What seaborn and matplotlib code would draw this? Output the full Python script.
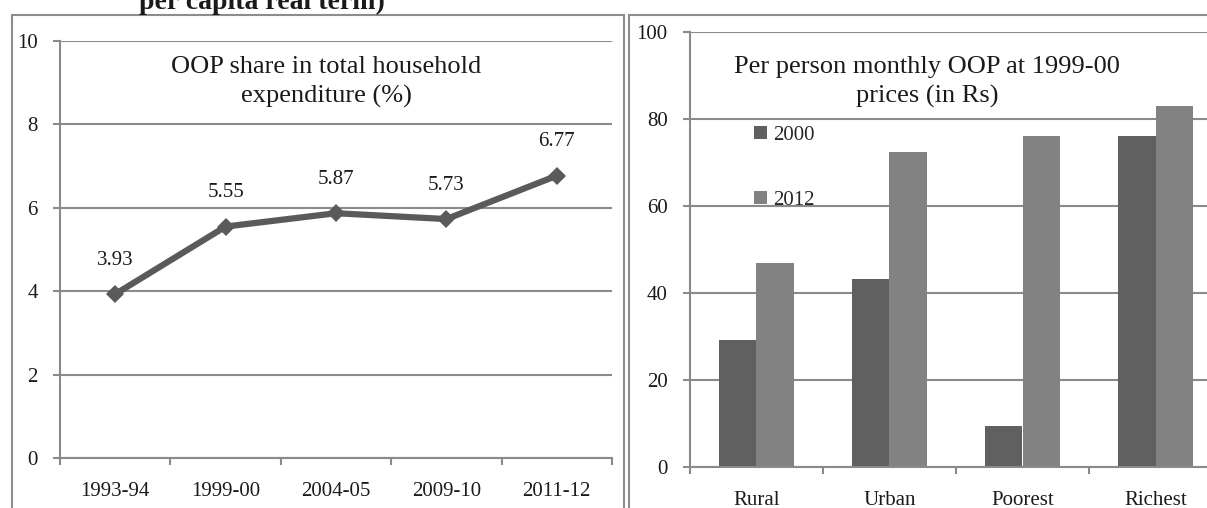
import matplotlib
matplotlib.use('Agg')
import matplotlib.pyplot as plt
from matplotlib.patches import Rectangle
import seaborn as sns
import pandas as pd

# left panel: OOP share
years = ['1993-94', '1999-00', '2004-05', '2009-10', '2011-12']
oop_share = [3.93, 5.55, 5.87, 5.73, 6.77]

# right panel: per person monthly OOP
groups = ['Rural', 'Urban', 'Poorest', 'Richest']
oop_2000 = [29.3, 43.2, 9.5, 76.0]
oop_2012 = [46.9, 72.3, 76.0, 83.0]
bar_years = ['2000', '2012']

sns.set_style('white')
plt.rcParams['font.family'] = ['Liberation Serif', 'DejaVu Serif']

GRID = '#8a8a8a'
TXT = '#1a1a1a'
W, H = 1207, 508

fig = plt.figure(figsize=(12.07, 5.08), dpi=100)

# panel frames
fig.patches.append(Rectangle((12 / W, -0.1), 612 / W, 1.1 - 15 / H,
                             transform=fig.transFigure, fill=False,
                             edgecolor='#8c8c8c', linewidth=1.5))
fig.patches.append(Rectangle((629 / W, -0.1), 0.6, 1.1 - 15 / H,
                             transform=fig.transFigure, fill=False,
                             edgecolor='#8c8c8c', linewidth=1.5))

# caption of the page, cut by the crop
fig.text(262 / W, 1 - 9 / H, 'per capita real term)', ha='center', va='baseline',
         fontsize=20, fontweight='bold', color=TXT)


def style_axes(ax):
    for s in ['top', 'right']:
        ax.spines[s].set_visible(False)
    for s in ['left', 'bottom']:
        ax.spines[s].set_color(GRID)
        ax.spines[s].set_linewidth(1.5)
    ax.grid(axis='y', color=GRID, linewidth=1.5)
    ax.set_axisbelow(True)
    ax.set_xlabel('')
    ax.set_ylabel('')
    ax.tick_params(axis='y', which='major', length=5, width=1.5, color=GRID,
                   labelsize=15, labelcolor=TXT, pad=11, left=True)
    ax.tick_params(axis='x', which='major', length=5, width=1.5, color=GRID,
                   direction='out', bottom=True)
    ax.tick_params(axis='x', which='minor', length=0, labelsize=15,
                   labelcolor=TXT, pad=17)


def panel_title(x, lines):
    for txt, base in zip(lines, [73, 103]):
        fig.text(x / W, 1 - base / H, txt, ha='center', va='baseline',
                 fontsize=19, color=TXT)


# left chart
ax1 = fig.add_axes([60 / W, 50 / H, 552 / W, 417 / H])
df1 = pd.DataFrame({'year': years, 'share': oop_share})
sns.lineplot(data=df1, x='year', y='share', ax=ax1, color='#5a5a5a',
             linewidth=4.5, marker='D', markersize=9.5, markeredgewidth=0)
ax1.set_xlim(-0.5, len(years) - 0.5)
ax1.set_ylim(0, 10)
ax1.set_yticks(range(0, 11, 2))
ax1.set_xticks([i - 0.5 for i in range(len(years) + 1)])
ax1.set_xticklabels([])
ax1.set_xticks(range(len(years)), minor=True)
ax1.set_xticklabels(years, minor=True)
style_axes(ax1)
for i, v in enumerate(oop_share):
    ax1.annotate(f'{v:.2f}', (i, v), xytext=(0, 34), textcoords='offset pixels',
                 ha='center', va='center', fontsize=15, color=TXT)
panel_title(326, ['OOP share in total household', 'expenditure (%)'])

# right chart (extends past the figure edge, as in the source)
ax2 = fig.add_axes([690 / W, 41 / H, 532 / W, 435 / H])
df2 = pd.DataFrame({
    'group': groups * 2,
    'value': oop_2000 + oop_2012,
    'year': [bar_years[0]] * len(groups) + [bar_years[1]] * len(groups),
})
sns.barplot(data=df2, x='group', y='value', hue='year', ax=ax2,
            palette=['#606060', '#828282'], saturation=1, width=0.56,
            edgecolor='none')
ax2.set_xlim(-0.5, len(groups) - 0.5)
ax2.set_ylim(0, 100)
ax2.set_yticks(range(0, 101, 20))
ax2.set_xticks([i - 0.5 for i in range(len(groups) + 1)])
ax2.set_xticklabels([])
ax2.set_xticks(range(len(groups)), minor=True)
ax2.set_xticklabels(groups, minor=True)
style_axes(ax2)
ax2.legend(loc='upper left', bbox_to_anchor=(0.105, 0.804), frameon=False,
           fontsize=15, handlelength=0.62, handleheight=0.62, handletextpad=0.3,
           labelspacing=2.2, borderaxespad=0)
panel_title(927, ['Per person monthly OOP at 1999-00', 'prices (in Rs)'])

fig.savefig('out.png', dpi=100)
